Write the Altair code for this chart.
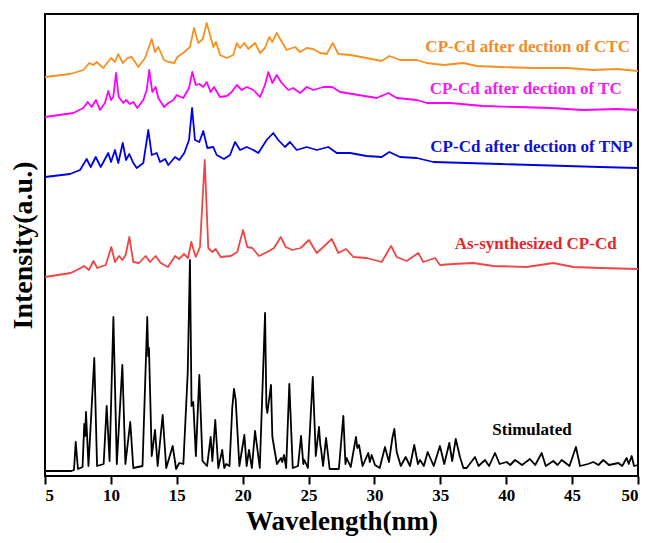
import altair as alt
import pandas as pd

# Series: (two-theta, intensity a.u.) pairs
stimulated = [
    (5.0, 5), (7.0, 5), (7.2, 6), (7.33, 34), (7.5, 7), (7.85, 9), (7.98, 52), (8.05, 40), (8.11, 64),
    (8.3, 10), (8.74, 118), (8.95, 10), (9.45, 12), (9.68, 70), (9.9, 15), (10.19, 159), (10.45, 12),
    (10.87, 111), (11.1, 12), (11.47, 54), (11.7, 8), (12.4, 10), (12.76, 159), (12.83, 120), (12.89, 128),
    (13.1, 20), (13.35, 46), (13.55, 10), (13.93, 61), (14.2, 8), (14.69, 30), (14.95, 7), (15.19, 13),
    (15.5, 12), (15.83, 103), (16.0, 216), (16.12, 70), (16.25, 74), (16.45, 20), (16.71, 101), (16.95, 15),
    (17.3, 10), (17.57, 39), (17.7, 15), (17.92, 56), (18.15, 8), (18.45, 26), (18.6, 8), (18.75, 12),
    (19.0, 10), (19.21, 68), (19.34, 87), (19.47, 76), (19.75, 10), (20.13, 41), (20.3, 10), (20.48, 26),
    (20.7, 8), (20.94, 45), (21.3, 8), (21.7, 163), (21.8, 70), (21.87, 63), (22.15, 91), (22.25, 40),
    (22.33, 33), (22.6, 12), (22.91, 18), (23.0, 14), (23.14, 21), (23.3, 8), (23.54, 92), (23.8, 8),
    (24.2, 10), (24.43, 40), (24.6, 12), (24.68, 16), (24.95, 8), (25.32, 99), (25.55, 20), (25.79, 49),
    (25.9, 30), (25.94, 28), (26.1, 10), (26.33, 38), (26.6, 7), (27.3, 7), (27.64, 60), (27.8, 12),
    (27.89, 18), (28.2, 9), (28.6, 39), (28.7, 28), (28.83, 31), (29.1, 10), (29.53, 23), (29.65, 14),
    (29.79, 21), (30.04, 11), (30.4, 8), (30.8, 29), (31.1, 14), (31.36, 38), (31.51, 47), (31.69, 24),
    (32.0, 10), (32.37, 19), (32.7, 10), (33.02, 31), (33.3, 12), (33.46, 16), (33.75, 10), (34.04, 24),
    (34.5, 10), (34.97, 30), (35.3, 12), (35.68, 33), (35.9, 15), (36.17, 37), (36.49, 19), (36.75, 8),
    (37.0, 8), (37.63, 19), (37.9, 10), (38.39, 16), (38.7, 10), (39.15, 23), (39.5, 12), (40.04, 14),
    (40.3, 11), (40.67, 16), (41.2, 11), (41.8, 17), (42.2, 11), (42.69, 23), (43.0, 10), (43.57, 15),
    (43.9, 11), (44.21, 16), (44.8, 10), (45.29, 29), (45.6, 10), (46.2, 12), (46.61, 14), (47.0, 11),
    (47.37, 16), (47.8, 11), (48.51, 13), (48.8, 10), (49.14, 18), (49.3, 12), (49.52, 20), (49.7, 10),
    (50.0, 11),
]

as_synthesized = [
    (5.0, 199), (6.95, 203), (7.71, 208), (7.96, 210), (8.34, 206), (8.67, 215), (8.97, 208), (9.61, 211),
    (10.03, 229), (10.31, 214), (10.62, 220), (10.87, 216), (11.12, 221), (11.40, 239), (11.70, 214),
    (12.13, 213), (12.64, 220), (12.97, 214), (13.40, 220), (13.78, 213), (14.33, 209), (14.87, 220),
    (15.17, 217), (15.55, 222), (15.85, 218), (16.10, 234), (16.44, 219), (16.76, 229), (17.12, 316),
    (17.39, 228), (17.70, 224), (17.95, 227), (18.33, 219), (19.09, 220), (19.59, 224), (20.03, 246),
    (20.35, 229), (20.73, 228), (21.24, 220), (21.87, 224), (22.38, 228), (22.89, 239), (23.27, 229),
    (23.77, 226), (24.40, 228), (25.03, 236), (25.62, 223), (26.12, 229), (26.76, 237), (27.26, 223),
    (27.84, 227), (28.40, 219), (29.41, 218), (30.55, 214), (31.26, 230), (31.69, 219), (32.45, 215),
    (33.33, 223), (33.71, 214), (34.60, 218), (34.97, 211), (35.98, 212), (37.50, 213), (39.02, 210),
    (41.55, 209), (43.57, 213), (45.09, 209), (47.12, 208), (50.0, 207),
]

after_tnp = [
    (5.0, 299), (6.90, 302), (7.66, 306), (8.16, 317), (8.47, 309), (8.85, 319), (9.23, 309), (9.80, 323),
    (10.01, 314), (10.31, 326), (10.56, 313), (10.90, 333), (11.15, 316), (11.40, 322), (11.70, 313),
    (11.96, 308), (12.46, 313), (12.84, 346), (13.10, 321), (13.48, 323), (13.73, 314), (14.11, 317),
    (14.36, 311), (14.87, 319), (15.19, 316), (15.57, 323), (15.93, 336), (16.16, 368), (16.38, 336),
    (16.71, 334), (17.01, 345), (17.32, 328), (17.77, 329), (18.03, 321), (18.58, 317), (19.04, 321),
    (19.42, 334), (19.80, 326), (20.31, 329), (20.81, 326), (21.19, 323), (21.82, 336), (22.32, 343),
    (22.70, 336), (23.21, 329), (23.59, 334), (24.10, 326), (24.86, 329), (25.62, 326), (26.50, 329),
    (27.14, 323), (28.15, 323), (29.41, 320), (30.55, 319), (31.13, 324), (31.94, 319), (33.21, 318),
    (34.47, 314), (37.00, 313), (39.53, 312), (42.06, 311), (44.59, 310), (47.12, 309), (50.0, 308),
]

after_tc = [
    (5.0, 359), (7.15, 363), (7.91, 368), (8.24, 374), (8.54, 369), (8.87, 376), (9.17, 366), (9.55, 373),
    (9.80, 385), (10.01, 376), (10.18, 379), (10.39, 403), (10.59, 379), (10.94, 373), (11.15, 376),
    (11.45, 372), (11.70, 374), (12.00, 368), (12.46, 376), (12.72, 386), (12.91, 406), (13.14, 384),
    (13.40, 389), (13.60, 378), (14.03, 369), (14.36, 373), (14.74, 376), (14.99, 381), (15.49, 378),
    (15.93, 388), (16.18, 404), (16.44, 391), (16.71, 392), (17.01, 389), (17.27, 394), (17.57, 384),
    (17.82, 389), (18.28, 379), (18.79, 380), (19.17, 384), (19.55, 391), (19.93, 386), (20.31, 389),
    (20.81, 386), (21.32, 379), (21.69, 391), (21.95, 404), (22.25, 393), (22.58, 401), (22.96, 393),
    (23.46, 386), (23.84, 388), (24.35, 383), (24.86, 389), (25.36, 386), (26.12, 389), (26.80, 389),
    (27.39, 384), (28.78, 381), (30.17, 378), (31.05, 383), (31.69, 378), (33.21, 376), (33.97, 373),
    (35.73, 373), (38.26, 370), (40.79, 369), (43.32, 368), (45.85, 366), (48.38, 367), (50.0, 366),
]

after_ctc = [
    (5.0, 399), (6.90, 402), (7.91, 406), (8.36, 413), (8.67, 411), (8.92, 414), (9.42, 408), (10.01, 418),
    (10.31, 414), (10.56, 422), (10.90, 413), (11.25, 418), (11.58, 419), (12.08, 409), (12.59, 418),
    (13.10, 437), (13.35, 424), (13.60, 429), (14.03, 416), (14.36, 414), (14.81, 413), (15.04, 419),
    (15.49, 423), (16.00, 429), (16.31, 448), (16.63, 433), (16.97, 437), (17.27, 453), (17.57, 439),
    (17.77, 429), (17.98, 434), (18.28, 421), (18.79, 418), (19.29, 421), (19.55, 433), (19.80, 428),
    (20.12, 433), (20.43, 427), (20.94, 433), (21.32, 423), (21.69, 428), (22.02, 439), (22.25, 434),
    (22.58, 443), (22.89, 436), (23.34, 426), (23.97, 429), (24.35, 424), (24.86, 428), (25.36, 427),
    (25.87, 423), (26.38, 422), (26.83, 433), (27.26, 422), (28.15, 421), (29.41, 418), (30.55, 415),
    (31.13, 420), (31.94, 416), (33.21, 416), (33.97, 413), (35.23, 411), (36.74, 413), (37.76, 410),
    (39.53, 409), (42.06, 408), (44.59, 408), (46.61, 406), (48.38, 407), (50.0, 405),
]

series_names = ["Stimulated", "As-synthesized CP-Cd", "CP-Cd after dection of TNP",
                "CP-Cd after dection of TC", "CP-Cd after dection of CTC"]
series_data = [stimulated, as_synthesized, after_tnp, after_tc, after_ctc]
line_colors = ["#000000", "#F04545", "#0000E8", "#FF00FF", "#F7901E"]
text_colors = ["#000000", "#E5262B", "#1010D0", "#F020F0", "#F28C28"]

# label anchors (right end x, baseline intensity)
label_x = [44.97, 48.38, 49.60, 48.76, 49.39]
label_y = [41, 227, 324, 382, 424]

x_ticks = [5 + 2.5 * i for i in range(19)]

rows = []
for name, pts in zip(series_names, series_data):
    for i, (xv, yv) in enumerate(pts):
        rows.append({"series": name, "x": xv, "y": yv, "order": i})
df = pd.DataFrame(rows)

labels_df = pd.DataFrame({"series": series_names, "x": label_x, "y": label_y, "tc": text_colors})

FONT = "Liberation Serif"

x_enc = alt.X("x:Q", scale=alt.Scale(domain=[5, 50], nice=False, zero=False),
              axis=alt.Axis(values=x_ticks, title="Wavelength(nm)",
                            labelExpr="datum.value % 5 === 0 ? datum.label : ''",
                            tickSize={"condition": {"test": "datum.value % 5 === 0", "value": 8}, "value": 4},
                            tickWidth=2, tickColor="black", domain=False, grid=False,
                            labelFont=FONT, labelFontSize=17, labelFontWeight="bold", labelColor="black",
                            labelPadding=3,
                            titleFont=FONT, titleFontSize=27, titleFontWeight="bold", titleColor="black",
                            titlePadding=5))
y_enc = alt.Y("y:Q", scale=alt.Scale(domain=[0, 462], nice=False, zero=False),
              axis=alt.Axis(title="Intensity(a.u.)", labels=False, ticks=False, domain=False, grid=False,
                            titleFont=FONT, titleFontSize=28, titleFontWeight="bold", titleColor="black",
                            titlePadding=8))

lines = alt.Chart(df).mark_line(strokeWidth=1.8, strokeJoin="round").encode(
    x=x_enc, y=y_enc,
    color=alt.Color("series:N", scale=alt.Scale(domain=series_names, range=line_colors), legend=None),
    order="order:Q",
)

texts = alt.Chart(labels_df).mark_text(align="right", baseline="alphabetic", font=FONT,
                                         fontSize=17, fontWeight="bold").encode(
    x="x:Q", y="y:Q", text="series:N",
    color=alt.Color("tc:N", scale=None),
)

chart = alt.layer(lines, texts).properties(
    width=593, height=462,
    autosize=alt.AutoSizeParams(type="none"),
    padding={"left": 45, "top": 14, "right": 13, "bottom": 67},
).configure_view(stroke="black", strokeWidth=2)

chart.save("out.html", embed_options={"renderer": "svg", "actions": False})
